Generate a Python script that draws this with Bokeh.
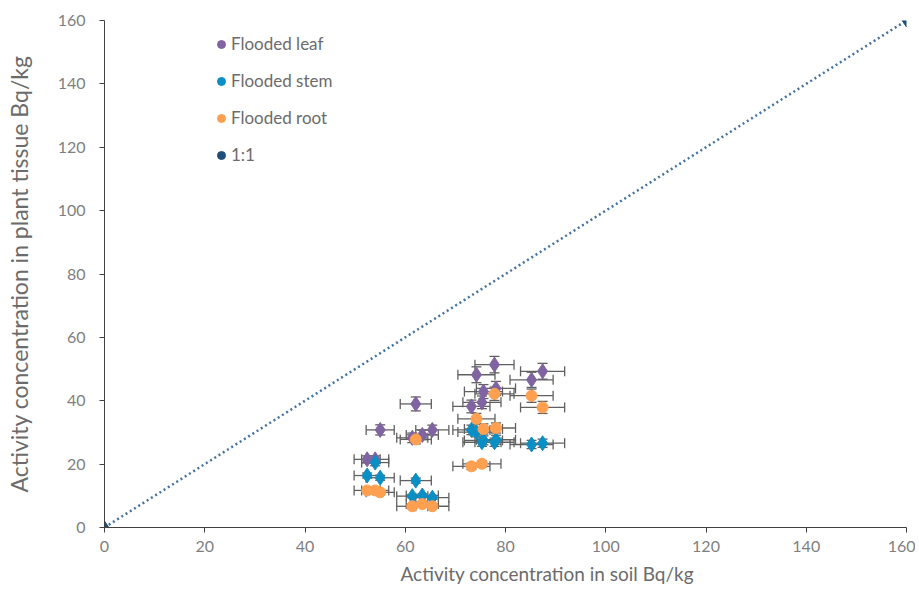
from bokeh.plotting import figure
from bokeh.models import (ColumnDataSource, Whisker, TeeHead, Legend, LegendItem,
                          SingleIntervalTicker, Range1d, Title)
from bokeh.embed import file_html
from bokeh.resources import INLINE

# ---- data ----
soil_x = [52.4, 54.0, 55.0, 61.4, 62.1, 63.4, 65.4, 73.2, 74.2, 75.3, 75.6, 77.8, 78.1, 85.2, 87.4]
soil_err = [2.6, 2.7, 2.8, 3.1, 3.1, 3.2, 3.3, 3.7, 3.7, 3.8, 3.8, 3.9, 3.9, 4.3, 4.4]

leaf_y = [21.5, 21.5, 30.8, 28.3, 39.0, 29.2, 30.8, 38.2, 48.2, 39.5, 42.9, 51.4, 43.9, 46.6, 49.3]
leaf_err = [1.1, 1.1, 1.6, 1.5, 2.2, 1.5, 1.5, 2.0, 2.5, 2.0, 2.2, 2.6, 2.2, 2.4, 2.5]

stem_y = [16.4, 20.5, 15.7, 9.9, 14.8, 10.1, 9.4, 30.8, 30.1, 26.9, 27.5, 26.9, 27.7, 26.2, 26.6]
stem_err = [0.8, 1.0, 0.8, 0.5, 0.8, 0.5, 0.5, 1.5, 1.5, 1.3, 1.4, 1.3, 1.4, 1.3, 1.3]

root_y = [11.7, 11.7, 11.1, 6.7, 27.8, 7.4, 6.7, 19.3, 34.3, 20.1, 31.1, 42.2, 31.4, 41.6, 37.9]
root_err = [0.6, 0.6, 0.6, 0.4, 1.4, 0.4, 0.4, 1.0, 1.7, 1.0, 1.6, 2.1, 1.6, 2.1, 1.9]

one_to_one_x = [0, 160]
one_to_one_y = [0, 160]

series_names = ["Flooded leaf", "Flooded stem", "Flooded root", "1:1"]
series_colors = ["#8064A2", "#0A8FC4", "#FFA050", "#1F4E79"]
x_ticks_interval = 20
x_title = "Activity concentration in soil Bq/kg"
y_title = "Activity concentration in plant tissue Bq/kg"

FONT = "Lato"
GREY = "#7F7F7F"
TITLE_GREY = "#6B6B6B"

p = figure(width=915, height=592, output_backend="svg", toolbar_location=None,
           x_range=Range1d(0, 160), y_range=Range1d(0, 160),
           min_border_left=104, min_border_top=20, min_border_right=9, min_border_bottom=65)
p.outline_line_color = None
p.xgrid.visible = False
p.ygrid.visible = False
p.background_fill_color = "white"

for ax in (p.xaxis[0], p.yaxis[0]):
    ax.ticker = SingleIntervalTicker(interval=x_ticks_interval)
    ax.axis_line_color = "#404040"
    ax.major_tick_line_color = "#404040"
    ax.major_tick_out = 5
    ax.major_tick_in = 0
    ax.minor_tick_line_color = None
    ax.major_label_text_font = FONT
    ax.major_label_text_font_size = "16px"
    ax.major_label_text_color = GREY
p.xaxis.major_label_standoff = 8
p.yaxis.major_label_standoff = 14

p.yaxis.axis_label = y_title
p.yaxis.axis_label_text_font = FONT
p.yaxis.axis_label_text_font_style = "normal"
p.yaxis.axis_label_text_font_size = "23px"
p.yaxis.axis_label_text_color = TITLE_GREY
p.yaxis.axis_label_standoff = 22

# x-title shifted right of centre, as in the reference
p.add_layout(Title(text=x_title, align="left", offset=296, standoff=10,
                   text_font=FONT, text_font_style="normal", text_font_size="19px",
                   text_color=TITLE_GREY), "below")

# 1:1 line
p.line(one_to_one_x, one_to_one_y, line_color="#44729E", line_width=2.5, line_dash="2 3")
p.scatter(one_to_one_x, one_to_one_y, marker="diamond", size=13, color=series_colors[3])

ERR = "#606060"
def add_series(ys, yerr):
    src = ColumnDataSource(dict(
        x=soil_x, y=ys,
        xl=[a - e for a, e in zip(soil_x, soil_err)],
        xu=[a + e for a, e in zip(soil_x, soil_err)],
        yl=[a - e for a, e in zip(ys, yerr)],
        yu=[a + e for a, e in zip(ys, yerr)],
    ))
    wx = Whisker(source=src, base="y", lower="xl", upper="xu", dimension="width",
                 line_color=ERR, line_width=1.3,
                 lower_head=TeeHead(size=10, line_color=ERR, line_width=1.3),
                 upper_head=TeeHead(size=10, line_color=ERR, line_width=1.3))
    wy = Whisker(source=src, base="x", lower="yl", upper="yu", dimension="height",
                 line_color=ERR, line_width=1.3,
                 lower_head=TeeHead(size=10, line_color=ERR, line_width=1.3),
                 upper_head=TeeHead(size=10, line_color=ERR, line_width=1.3))
    p.add_layout(wx)
    p.add_layout(wy)
    return src

srcs = [add_series(leaf_y, leaf_err),
        add_series(stem_y, stem_err),
        add_series(root_y, root_err)]
p.scatter("x", "y", source=srcs[0], marker="diamond", size=15, color=series_colors[0])
p.scatter("x", "y", source=srcs[1], marker="diamond", size=15, color=series_colors[1])
p.scatter("x", "y", source=srcs[2], marker="circle", size=11, color=series_colors[2])

# legend with round markers (proxy renderers with no visible point)
items = []
nan = float("nan")
for name, col in zip(series_names, series_colors):
    r = p.scatter(x=[nan], y=[nan], marker="circle", size=8, color=col)
    items.append(LegendItem(label=name, renderers=[r]))
legend = Legend(items=items, location=(107, 362), orientation="vertical",
                glyph_width=20, glyph_height=20, label_height=20, spacing=16,
                label_standoff=0, padding=0, margin=0,
                border_line_color=None, background_fill_alpha=0,
                label_text_font=FONT, label_text_font_size="17px",
                label_text_color=TITLE_GREY)
p.add_layout(legend)

open("out.html", "w").write(file_html(p, INLINE))
